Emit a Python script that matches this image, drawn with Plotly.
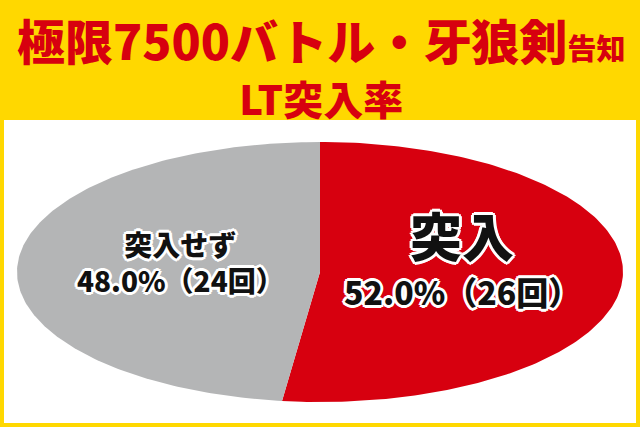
import numpy as np
import plotly.graph_objects as go

# ---- data ----
categories = ["突入", "突入せず"]
counts = [26, 24]
colors = ["#D7000F", "#B4B5B6"]
title_main = "極限7500バトル・牙狼剣"
title_sub = "告知"
title_line2 = "LT突入率"

W, H = 640, 427
YELLOW = "#FFD800"
RED = "#D7000F"
FONT = "Noto Sans CJK JP, Noto Sans CJK SC, sans-serif"

# ellipse geometry (pixel space)
cx, cy, rx, ry = 320, 272, 303, 130

total = sum(counts)
fracs = [c / total for c in counts]

fig = go.Figure()

# white panel
fig.add_shape(type="rect", x0=4, x1=636, y0=120, y1=423,
              fillcolor="white", line_width=0, layer="below")

start = 0.0
for cat, f, col in zip(categories, fracs, colors):
    th = np.linspace(start, start + f * 2 * np.pi, 200)
    xs = np.concatenate([[cx], cx + rx * np.sin(th), [cx]])
    ys = np.concatenate([[cy], cy - ry * np.cos(th), [cy]])
    fig.add_trace(go.Scatter(x=xs, y=ys, fill="toself", fillcolor=col,
                             mode="lines", line=dict(width=0, color=col),
                             hoverinfo="skip", showlegend=False, name=cat))
    start += f * 2 * np.pi

outline = ("2px 0 0 #fff, -2px 0 0 #fff, 0 2px 0 #fff, 0 -2px 0 #fff, "
           "2px 2px 0 #fff, -2px -2px 0 #fff, 2px -2px 0 #fff, -2px 2px 0 #fff, "
           "3px 0 0 #fff, -3px 0 0 #fff, 0 3px 0 #fff, 0 -3px 0 #fff")

def pct_text(i):
    return f"{fracs[i]*100:.1f}%（{counts[i]}回）"

title_text = (f"<span style='font-size:48px'>{title_main}</span>"
              f"<span style='font-size:29px'>{title_sub}</span><br>"
              f"<span style='font-size:40px'>{title_line2}</span>")

annots = [
    # title (two lines)
    dict(x=321, y=65, text=title_text, yanchor="middle",
         font=dict(size=42, color=RED, family=FONT, weight=900)),
    # 突入 (red)
    dict(x=462, y=255,
         text=(f"<span style='font-size:52px'>{categories[0]}</span><br>"
               f"<span style='font-size:32px'>{pct_text(0)}</span>"),
         yanchor="middle",
         font=dict(size=37, color="#111", family=FONT, weight=900, shadow=outline)),
    # 突入せず (grey)
    dict(x=180, y=262, text=f"{categories[1]}<br>{pct_text(1)}", yanchor="middle",
         font=dict(size=28, color="#111", family=FONT, weight=900, shadow=outline)),
]
for a in annots:
    a.update(xref="x", yref="y", showarrow=False, xanchor="center")

fig.update_layout(
    width=W, height=H, margin=dict(l=0, r=0, t=0, b=0),
    paper_bgcolor=YELLOW, plot_bgcolor=YELLOW,
    xaxis=dict(range=[0, W], visible=False, fixedrange=True),
    yaxis=dict(range=[H, 0], visible=False, fixedrange=True),
    annotations=annots, showlegend=False,
)
fig.write_html("out.html", config={"displayModeBar": False},
               post_script="document.body.style.margin='0';document.body.style.overflow='hidden';")
